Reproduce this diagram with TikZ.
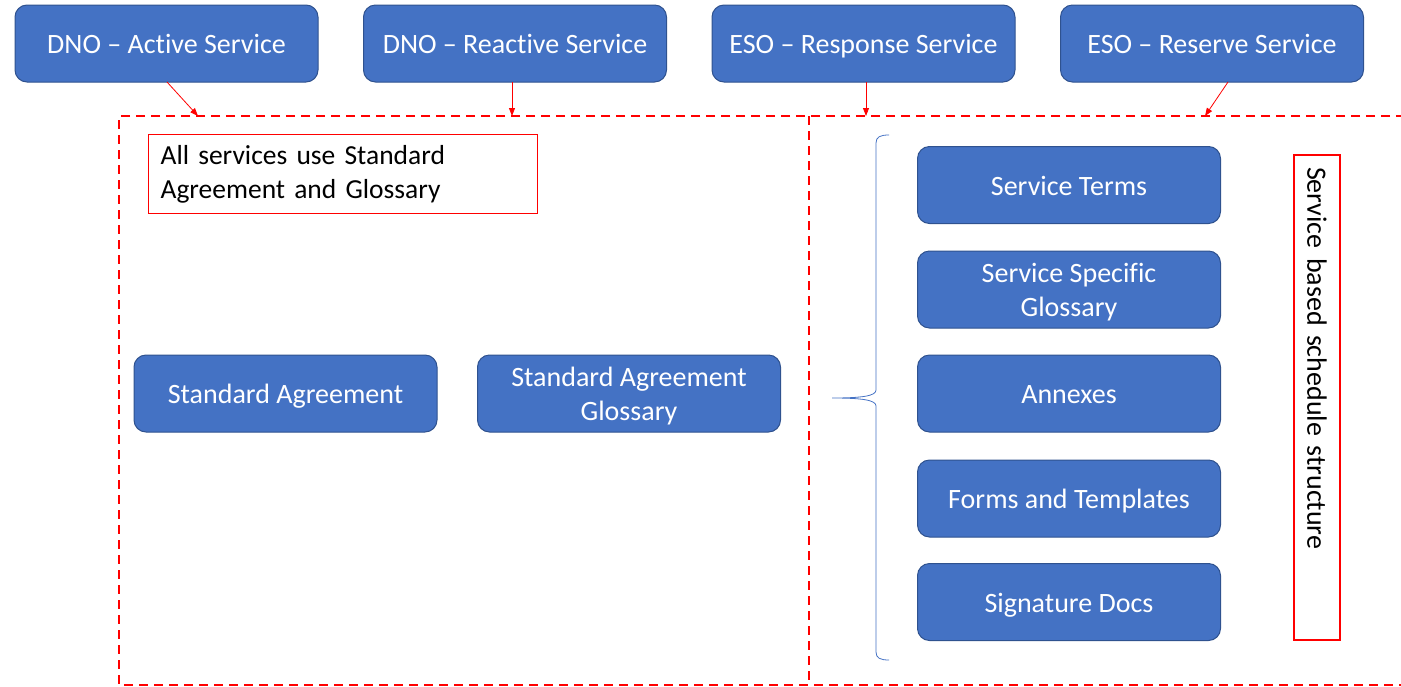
\documentclass[tikz,border=0pt]{standalone}
\usepackage{fontspec}
\setmainfont[Ligatures=NoCommon]{Carlito}
\usetikzlibrary{arrows.meta}
\definecolor{boxblue}{HTML}{4472C4}
\definecolor{boxedge}{HTML}{2F528F}
\definecolor{linered}{HTML}{FF0000}
\tikzset{
  svcbox/.style={draw=boxedge, line width=1pt, fill=boxblue, rounded corners=12pt,
    minimum width=303pt, minimum height=77pt, text=white, align=center,
    font=\fontsize{28}{34}\selectfont, inner sep=4pt},
  oneline/.style={text height=23pt, text depth=3pt},
  twoline/.style={text height=58pt, text depth=4pt},
  feed/.style={draw=linered, line width=0.8pt, -{Triangle[length=8pt,width=6pt]}},
  region/.style={draw=linered, line width=2pt, dash pattern=on 9pt off 6pt},
  note/.style={draw=linered, line width=1.2pt, text=black,
    font=\fontsize{27.5}{34}\selectfont, align=left}
}
\begin{document}
\begin{tikzpicture}[x=1pt, y=-1pt]
\useasboundingbox (0,0) rectangle (1401,686);
\begin{scope}
\clip (0,0) rectangle (1401,686);

% service type boxes along the top
\node[svcbox, oneline] (dnoA) at (166.5,43.5) {DNO – Active Service};
\node[svcbox, oneline] (dnoR) at (515,43.5) {DNO – Reactive Service};
\node[svcbox, oneline] (esoP) at (863.5,43.5) {ESO – Response Service};
\node[svcbox, oneline] (esoR) at (1212,43.5) {ESO – Reserve Service};

% dashed document region, split in two
\coordinate (tl) at (119,116);
\coordinate (tr) at (1405,116);
\coordinate (bl) at (119,685);
\coordinate (br) at (1405,685);
\coordinate (mt) at (809,116);
\coordinate (mb) at (809,685);
\draw[region] (tr) -- (tl) -- (bl) -- (br);
\draw[region] (mt) -- (mb);

% feeds from each service into the region
\coordinate (outA) at (167,82);
\coordinate (outR) at (512,82);
\coordinate (outP) at (866,82);
\coordinate (outE) at (1228,82);
\coordinate (inA) at (198,116);
\coordinate (inR) at (512,116);
\coordinate (inP) at (866,116);
\coordinate (inE) at (1205,116);
\draw[feed] (outA) -- (inA);
\draw[feed] (outR) -- (inR);
\draw[feed] (outP) -- (inP);
\draw[feed] (outE) -- (inE);

% shared documents
\node[note, text width=365pt, inner xsep=12pt, inner ysep=4pt, minimum height=79pt,
  anchor=north west] (shared) at (148,134) {All services use Standard\\Agreement and Glossary};
\node[svcbox, oneline] (sa) at (285.5,393.5) {Standard Agreement};
\node[svcbox, twoline] (sag) at (629,393.5) {Standard Agreement\\Glossary};

% schedule documents
\node[svcbox, oneline] (st) at (1069,185) {Service Terms};
\node[svcbox, twoline] (ssg) at (1069,289.5) {Service Specific\\Glossary};
\node[svcbox, oneline] (ax) at (1069,393.5) {Annexes};
\node[svcbox, oneline] (ft) at (1069,498.5) {Forms and Templates};
\node[svcbox, oneline] (sd) at (1069,602) {Signature Docs};

% brace grouping the schedule documents
\draw[boxblue, line width=0.8pt]
  (889,135) .. controls (880,135) and (876,137) .. (876,143)
  -- (876,390) .. controls (876,396) and (862,398) .. (832,398)
  (832,398) .. controls (862,398) and (876,400) .. (876,406)
  -- (876,652) .. controls (876,658) and (880,660) .. (889,660);

% vertical label
\node[note, rotate=-90, text width=461pt, inner xsep=12pt, inner ysep=0pt,
  minimum height=46pt, font=\fontsize{28}{34}\selectfont] (sched) at (1317,397.5)
  {Service based schedule structure};
\end{scope}
\end{tikzpicture}
\end{document}
